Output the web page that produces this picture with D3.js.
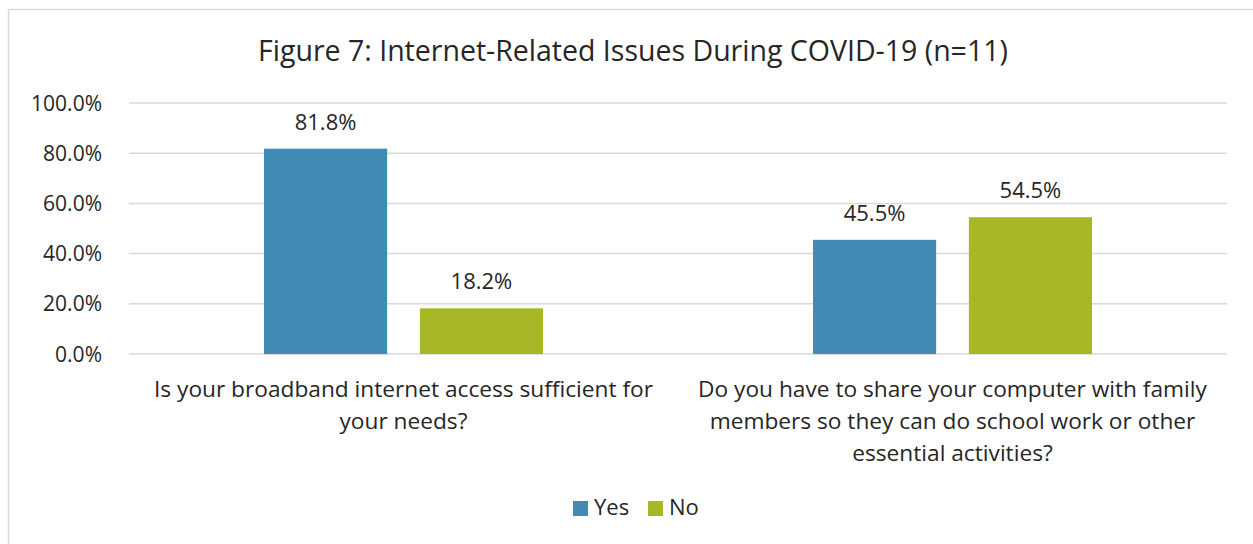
<!DOCTYPE html>
<html>
<head>
<meta charset="utf-8">
<script src="https://cdn.jsdelivr.net/npm/d3@7"></script>
<style>
  body { margin: 0; background: #fff; overflow: hidden; }
  svg { display: block; font-family: "Open Sans", sans-serif; }
</style>
</head>
<body>
<svg id="chart" width="1253" height="544"></svg>
<script>
// chart data
const categories = [
  ['Is your broadband internet access sufficient for', 'your needs?'],
  ['Do you have to share your computer with family', 'members so they can do school work or other', 'essential activities?']
];
const seriesNames = ['Yes', 'No'];
const yesValues = [81.8, 45.5];
const noValues = [18.2, 54.5];
const yTicks = [0, 20, 40, 60, 80, 100];
const colors = ['#418AB3', '#A6B727'];

const width = 1253, height = 544;
const margin = { top: 103, right: 26, bottom: 190, left: 129 };
const innerWidth = width - margin.left - margin.right;
const innerHeight = height - margin.top - margin.bottom;
const textColor = '#262626';
const font = '"Open Sans", sans-serif';

const svg = d3.select('#chart');

// outer frame: only the top and left edges fall inside the picture
svg.append('line')
  .attr('x1', 8.5).attr('x2', 8.5).attr('y1', 9.5).attr('y2', height)
  .attr('stroke', '#D9D9D9').attr('stroke-width', 1.5);
svg.append('line')
  .attr('x1', 8.5).attr('x2', width).attr('y1', 9.5).attr('y2', 9.5)
  .attr('stroke', '#D9D9D9').attr('stroke-width', 1.5);

svg.append('text')
  .attr('x', 633).attr('y', 61)
  .attr('text-anchor', 'middle')
  .attr('font-size', 28.5)
  .attr('fill', textColor)
  .text('Figure 7: Internet-Related Issues During COVID-19 (n=11)');

const g = svg.append('g')
  .attr('transform', `translate(${margin.left},${margin.top})`);

const x0 = d3.scaleBand()
  .domain(d3.range(categories.length))
  .range([0, innerWidth]);

const x1 = d3.scaleBand()
  .domain(seriesNames)
  .range([135, x0.bandwidth() - 135])
  .paddingInner(0.21);

const y = d3.scaleLinear().domain([0, 100]).range([innerHeight, 0]);

// gridlines
g.append('g')
  .selectAll('line')
  .data(yTicks)
  .join('line')
  .attr('x1', 0).attr('x2', innerWidth)
  .attr('y1', d => y(d)).attr('y2', d => y(d))
  .attr('stroke', '#D9D9D9')
  .attr('stroke-width', 1.5);

// y axis labels
const yAxis = g.append('g')
  .attr('transform', 'translate(-24,0)')
  .call(d3.axisLeft(y).tickValues(yTicks).tickSize(0).tickFormat(d => d.toFixed(1) + '%'));
yAxis.select('.domain').remove();
yAxis.selectAll('text')
  .attr('dy', null)
  .attr('y', 7)
  .attr('font-size', 21)
  .attr('font-family', font)
  .attr('fill', textColor);

const rows = categories.map((c, i) => ({ i, values: [yesValues[i], noValues[i]] }));

const groups = g.selectAll('.cat')
  .data(rows)
  .join('g')
  .attr('transform', d => `translate(${x0(d.i)},0)`);

groups.selectAll('rect')
  .data(d => d.values.map((v, k) => ({ name: seriesNames[k], v, k })))
  .join('rect')
  .attr('x', d => x1(d.name))
  .attr('y', d => y(d.v))
  .attr('width', x1.bandwidth())
  .attr('height', d => innerHeight - y(d.v))
  .attr('fill', d => colors[d.k]);

groups.selectAll('.val')
  .data(d => d.values.map((v, k) => ({ name: seriesNames[k], v, k })))
  .join('text')
  .attr('x', d => x1(d.name) + x1.bandwidth() / 2)
  .attr('y', d => y(d.v) - 19)
  .attr('text-anchor', 'middle')
  .attr('font-size', 22)
  .attr('fill', textColor)
  .text(d => d.v.toFixed(1) + '%');

// category labels, one text per line
groups.each(function (d) {
  d3.select(this).selectAll('.cat-label')
    .data(categories[d.i])
    .join('text')
    .attr('class', 'cat-label')
    .attr('x', x0.bandwidth() / 2)
    .attr('y', (t, j) => innerHeight + 43 + j * 32)
    .attr('text-anchor', 'middle')
    .attr('font-size', 22.7)
    .attr('fill', textColor)
    .text(t => t);
});

// legend
const legend = svg.append('g').attr('transform', 'translate(573,515)');
const legendX = [0, 75];
seriesNames.forEach((name, k) => {
  legend.append('rect')
    .attr('x', legendX[k]).attr('y', -14)
    .attr('width', 15).attr('height', 15)
    .attr('fill', colors[k]);
  legend.append('text')
    .attr('x', legendX[k] + 21).attr('y', 0)
    .attr('font-size', 22)
    .attr('fill', textColor)
    .text(name);
});
</script>
</body>
</html>
